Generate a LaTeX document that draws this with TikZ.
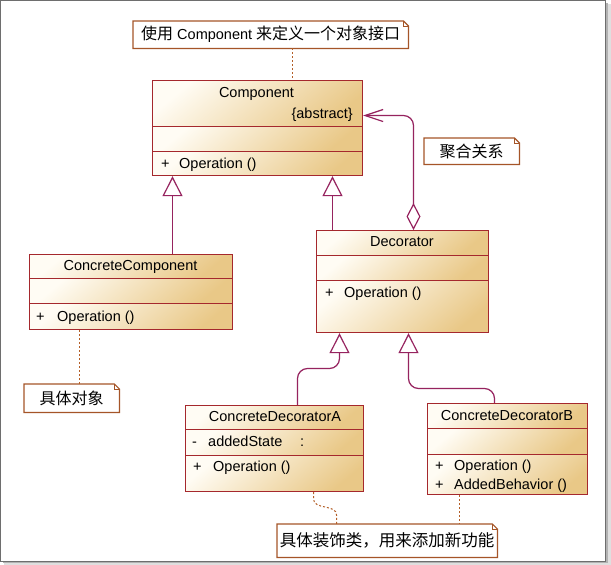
\documentclass[tikz,border=0pt]{standalone}
\usepackage{fontspec}
\setmainfont{Liberation Sans}
\newfontfamily\cjk{Noto Sans CJK SC}
\usetikzlibrary{arrows.meta,calc}
\definecolor{boxc}{RGB}{165,40,45}
\definecolor{linkc}{RGB}{150,35,95}
\definecolor{notec}{RGB}{165,85,40}
\definecolor{dotc}{RGB}{180,95,40}
\definecolor{fillA}{RGB}{255,252,244}
\definecolor{fillB}{RGB}{233,200,135}
\definecolor{framec}{RGB}{110,110,110}
\begin{document}
\begin{tikzpicture}[x=1pt,y=-1pt,
  comp/.style={draw=boxc, line width=1.2pt, top color=fillA, bottom color=fillB, shading angle=40, inner sep=0, anchor=north west},
  txt/.style={inner sep=0, font=\fontsize{14.5}{16}\selectfont, anchor=base west},
  ctxt/.style={txt, anchor=base},
  notebox/.style={inner sep=0, font=\fontsize{14.5}{16}\selectfont},
  notedraw/.style={draw=notec, line width=1.2pt, fill=white},
  notelink/.style={draw=dotc, line width=1pt, dash pattern=on 2pt off 2pt},
  gen/.style={draw=linkc, line width=1.2pt, -{Triangle[open,length=20,width=20]}, rounded corners=10},
  agg/.style={draw=linkc, line width=1.2pt, {Diamond[open,length=27,width=14]}-{Straight Barb[length=18,width=12]}, rounded corners=10}
]
\useasboundingbox (0,0) rectangle (611,565);
% frame with shadow
\fill[gray!25] (4,4) rectangle (611,565);
\fill[gray!60] (3,3) rectangle (608,563);
\filldraw[fill=white, draw=framec, line width=1pt] (0,0.5) rectangle (605.5,561.5);

% Component
\node[comp, minimum width=210, minimum height=46] (comp-h) at (152,80) {};
\node[comp, minimum width=210, minimum height=25] (comp-a) at (152,126) {};
\node[comp, minimum width=210, minimum height=24] (comp-o) at (152,151) {};
\node[ctxt] (comp-n) at (256.5,97) {Component};
\node[txt, anchor=base east] (comp-abs) at (353,118) {\{abstract\}};
\node[txt] (comp-p) at (161,168) {+};
\node[txt] (comp-op) at (179,168) {Operation ()};

% Decorator
\node[comp, minimum width=172, minimum height=25] (dec-h) at (316,230) {};
\node[comp, minimum width=172, minimum height=25] (dec-a) at (316,255) {};
\node[comp, minimum width=172, minimum height=52] (dec-o) at (316,280) {};
\node[ctxt] (dec-n) at (402,246) {Decorator};
\node[txt] (dec-p) at (325,297) {+};
\node[txt] (dec-op) at (344,297) {Operation ()};

% ConcreteComponent
\node[comp, minimum width=203, minimum height=24] (cc-h) at (29,254) {};
\node[comp, minimum width=203, minimum height=25] (cc-a) at (29,278) {};
\node[comp, minimum width=203, minimum height=26] (cc-o) at (29,303) {};
\node[ctxt] (cc-n) at (130.5,270) {ConcreteComponent};
\node[txt] (cc-p) at (36,321) {+};
\node[txt] (cc-op) at (57,321) {Operation ()};

% ConcreteDecoratorA
\node[comp, minimum width=178, minimum height=24] (cda-h) at (185,405) {};
\node[comp, minimum width=178, minimum height=26] (cda-a) at (185,429) {};
\node[comp, minimum width=178, minimum height=36] (cda-o) at (185,455) {};
\node[ctxt] (cda-n) at (275,421) {ConcreteDecoratorA};
\node[txt] (cda-m) at (192,446) {-};
\node[txt] (cda-at) at (208,446) {addedState};
\node[txt] (cda-col) at (300,446) {:};
\node[txt] (cda-p) at (193,471) {+};
\node[txt] (cda-op) at (213,471) {Operation ()};

% ConcreteDecoratorB
\node[comp, minimum width=160, minimum height=25] (cdb-h) at (427,403) {};
\node[comp, minimum width=160, minimum height=26] (cdb-a) at (427,428) {};
\node[comp, minimum width=160, minimum height=40] (cdb-o) at (427,454) {};
\node[ctxt] (cdb-n) at (507,420) {ConcreteDecoratorB};
\node[txt] (cdb-p1) at (435,470) {+};
\node[txt] (cdb-op1) at (454,470) {Operation ()};
\node[txt] (cdb-p2) at (435,489) {+};
\node[txt] (cdb-op2) at (454,489) {AddedBehavior ()};

% notes
\newcommand{\drawnote}[1]{%
  \draw[notedraw] (#1.south west) -- (#1.north west) -- ($(#1.north east)+(-5,0)$) -- ($(#1.north east)+(0,5)$) -- (#1.south east) -- cycle;
  \draw[draw=notec, line width=0.8pt] ($(#1.north east)+(-5,0)$) -- ++(0,5) -- ++(5,0);}

\node[notebox, minimum width=275, minimum height=27, anchor=north west] (n1) at (133,21) {};
\drawnote{n1}
\node[notebox, anchor=center] (n1t) at (n1.center) {{\cjk\fontsize{16}{18}\selectfont 使用} Component {\cjk\fontsize{16}{18}\selectfont 来定义一个对象接口}};

\node[notebox, minimum width=95, minimum height=26, anchor=north west] (n2) at (424,138) {};
\drawnote{n2}
\node[notebox, anchor=center] (n2t) at (n2.center) {\cjk\fontsize{16}{18}\selectfont 聚合关系};

\node[notebox, minimum width=95, minimum height=28, anchor=north west] (n3) at (24,384) {};
\drawnote{n3}
\node[notebox, anchor=center] (n3t) at (n3.center) {\cjk\fontsize{16}{18}\selectfont 具体对象};

\node[notebox, minimum width=220, minimum height=33, anchor=north west] (n4) at (277,524) {};
\drawnote{n4}
\node[notebox, anchor=center] (n4t) at (n4.center) {\cjk\fontsize{16.5}{18}\selectfont 具体装饰类，用来添加新功能};

% note links
\coordinate (l1) at (292.5,0);
\draw[notelink] (n1.south -| l1) -- (comp-h.north -| l1);
\coordinate (l3) at (79.5,0);
\draw[notelink] (cc-o.south -| l3) -- (n3.north -| l3);
\coordinate (l4a) at (313.5,0);
\coordinate (l4b) at (336.5,0);
\draw[notelink] (cda-o.south -| l4a) -- (313.5,499) .. controls (313.5,510) and (336.5,504) .. (336.5,515) -- (n4.north -| l4b);
\coordinate (l5) at (459.5,0);
\draw[notelink] (cdb-o.south -| l5) -- (n4.north -| l5);

% generalizations
\coordinate (g1) at (172.5,0);
\draw[gen] (cc-h.north -| g1) -- (comp-o.south -| g1);
\coordinate (g2) at (332.5,0);
\draw[gen] (dec-h.north -| g2) -- (comp-o.south -| g2);
\coordinate (g3a) at (297.5,368.5);
\coordinate (g3b) at (339.5,368.5);
\draw[gen] (cda-h.north -| g3a) -- (g3a) -- (g3b) -- (dec-o.south -| g3b);
\coordinate (g4a) at (494.5,388.5);
\coordinate (g4b) at (408.5,388.5);
\draw[gen] (cdb-h.north -| g4a) -- (g4a) -- (g4b) -- (dec-o.south -| g4b);

% aggregation
\coordinate (ag) at (413.5,115.5);
\draw[agg] (dec-h.north -| ag) -- (ag) -- (comp-h.east |- ag);
\end{tikzpicture}
\end{document}
